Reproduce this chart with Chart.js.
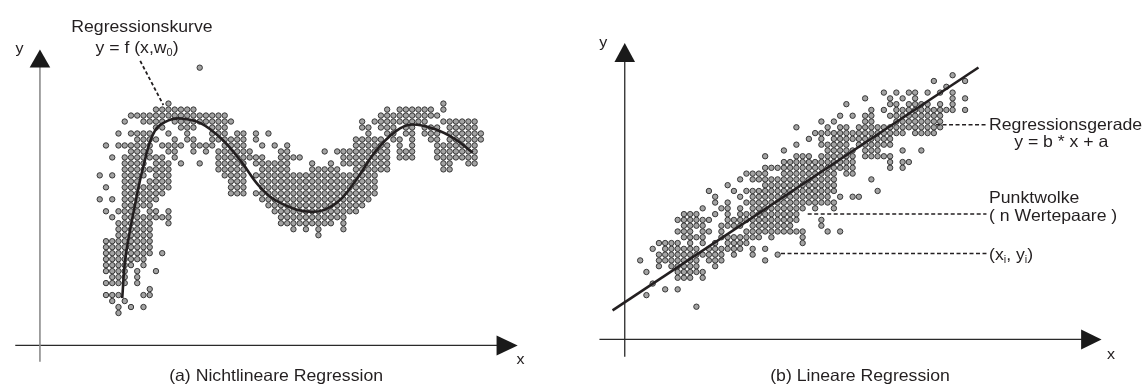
<!DOCTYPE html>
<html>
<head>
<meta charset="utf-8">
<script src="https://cdn.jsdelivr.net/npm/chart.js@4.4.1/dist/chart.umd.min.js"></script>
<style>
  html, body { margin: 0; padding: 0; background: #ffffff; }
  #wrap { position: relative; width: 1144px; height: 389px; overflow: hidden; }
  canvas { position: absolute; top: 0; }
</style>
</head>
<body>
<div id="wrap">
  <canvas id="nonlinear" width="572" height="389" style="left:0px"></canvas>
  <canvas id="linear" width="572" height="389" style="left:572px"></canvas>
</div>
<script>
// Point clouds on a lattice: "row: columns", columns given singly or as a-b ranges.
const nonlinearCloud = [
  "41:16",
  "35:11,55",
  "34:9-15,46,48-53,55",
  "33:5-20,45-54",
  "32:4,7-10,12-21,42,44-52,55-60",
  "31:9-10,13-15,18-20,42-43,45-47,49-50,52-54,56-60",
  "30:3,5-8,11,14,18-20,22-23,25,27,43,46-47,49-50,52-54,56-61",
  "29:6-9,12,14-15,18-23,25,41-45,47-48,50,53-54,56-61",
  "28:1,3-8,10-13,15-18,20-23,26,28,30,41-46,48,50,54-60",
  "27:5-8,11-12,15,17,19-24,29-30,36,38-46,48-50,54-60",
  "26:2,4-10,12,19-26,29-32,39-46,48-50,54-60",
  "25:4-7,9-11,13,16,19-23,25-30,34,37,39-46,55-56,59-60",
  "24:4-11,19-23,26-30,34-38,41-46,55-56",
  "23:0,2,4-7,9-11,20-23,25-44",
  "22:4-6,8-11,21-23,26-44",
  "21:1,4-11,21-23,26-44",
  "20:4-10,21-23,25-44",
  "19:0,2,4-9,26-43",
  "18:4-8,27-42",
  "17:1,3-6,8-9,11,28-41",
  "16:2,4-11,29-39",
  "15:3-8,11,29-37,39",
  "14:3-8,31,33,35,39",
  "13:3-8,35",
  "12:1-8",
  "11:1-8",
  "10:1-8,10",
  "9:1-7",
  "8:1-5,7",
  "7:1-4,6,9",
  "6:2-4,6",
  "5:1-4,6",
  "4:8",
  "3:1-3,7-8",
  "2:2,4",
  "1:3,5,7",
  "0:3"
];

const linearCloud = [
  "40:50",
  "39:47,52",
  "38:49",
  "37:39,41,43,44,46,48,50",
  "36:36,40,42,44,50,52",
  "35:33,40-41,43-46,48,50",
  "34:37,39,41-50,52",
  "33:32,34,36-37,40-48",
  "32:29,31,36-37,41-48",
  "31:25,30,32-33,35-48",
  "30:28-42,44-47",
  "29:27,29,31-40",
  "28:25,29-33,35-40",
  "27:23,30-34,36-38,42,45",
  "26:20,25-27,29-34,36-40",
  "25:23-34,40,42-43",
  "24:20-34,40,42",
  "23:17-20,23-31,33-34",
  "22:16,18-31,37",
  "21:14,20-31",
  "20:11,15,17-31,38",
  "19:12,16,18-30,32,34-35",
  "18:12,14,17-31",
  "17:10,13-14,16,18-26,28,31",
  "16:7-9,12,14,16-25",
  "15:6-11,14-25,29",
  "14:7-10,13-16,18-24,29",
  "13:6-8,10-11,13,17-26,30,32",
  "12:7-10,13-19,21,26",
  "11:3-6,8,10,12,14-17,26",
  "10:2,4-9,11-16,18,20",
  "9:3-13,15,18,22",
  "8:0,3-9,11-13,20",
  "7:3,5-9,12",
  "6:1,6-10",
  "5:6-8,10",
  "4:2",
  "3:4,6",
  "2:1",
  "0:9"
];

// Fitted curve y = f(x, w0), sampled along its path (lattice units)
const curveX = [3.6, 4.1, 5.5, 7.1, 8.8, 11.0, 13.1, 16.2, 19.4, 22.5, 25.7, 28.9, 34.0, 37.9, 41.0, 44.2, 47.4, 49.9, 53.7, 56.8, 59.7];
const curveY = [2.5, 9.1, 17.3, 25.0, 30.4, 32.2, 32.5, 31.7, 29.2, 25.5, 21.0, 18.4, 16.9, 18.4, 22.2, 27.1, 30.4, 31.5, 30.7, 29.1, 26.8];

// Straight fit y = b * x + a, end points (lattice units)
const lineX = [-4.42, 54.14];
const lineY = [-0.64, 41.34];

const captions = ["(a) Nichtlineare Regression", "(b) Lineare Regression"];

function expandRows(rows) {
  const pts = [];
  rows.forEach(function (s) {
    const parts = s.split(":");
    const r = Number(parts[0]);
    parts[1].split(",").forEach(function (chunk) {
      const ab = chunk.split("-").map(Number);
      const end = ab.length > 1 ? ab[1] : ab[0];
      for (let c = ab[0]; c <= end; c++) pts.push({ x: c, y: r });
    });
  });
  return pts;
}

function seg(xs, ys) { return xs.map(function (x, i) { return { x: x, y: ys[i] }; }); }

const INK = "#231f20";
const FONT = '"Liberation Sans", Arial, Helvetica, sans-serif';
const STRETCH = 1.07;

// Text with single-character subscripts written as _c
function drawRich(ctx, text, px, py, align, size) {
  const segs = [];
  for (let i = 0; i < text.length; i++) {
    if (text[i] === "_" && i + 1 < text.length) { segs.push({ t: text[i + 1], sub: true }); i++; }
    else {
      if (segs.length && !segs[segs.length - 1].sub) segs[segs.length - 1].t += text[i];
      else segs.push({ t: text[i], sub: false });
    }
  }
  let w = 0;
  segs.forEach(function (s) {
    ctx.font = (s.sub ? size * 0.62 : size) + "px " + FONT;
    w += ctx.measureText(s.t).width;
  });
  const x0 = align === "center" ? px - (w * STRETCH) / 2 : px;
  ctx.save();
  ctx.translate(x0, py);
  ctx.scale(STRETCH, 1);
  ctx.fillStyle = INK;
  ctx.textBaseline = "alphabetic";
  ctx.textAlign = "left";
  let cx = 0;
  segs.forEach(function (s) {
    const fs = s.sub ? size * 0.62 : size;
    ctx.font = fs + "px " + FONT;
    ctx.fillText(s.t, cx, s.sub ? size * 0.2 : 0);
    cx += ctx.measureText(s.t).width;
  });
  ctx.restore();
}

// Arrow heads and labels, placed through the chart's own scales
const decorPlugin = {
  id: "decor",
  afterDatasetsDraw: function (chart, args, opts) {
    const ctx = chart.ctx;
    const sx = chart.scales.x, sy = chart.scales.y;
    (opts.arrows || []).forEach(function (a) {
      const tx = sx.getPixelForValue(a.tip[0]), ty = sy.getPixelForValue(a.tip[1]);
      const bx = sx.getPixelForValue(a.base[0]), by = sy.getPixelForValue(a.base[1]);
      const dx = tx - bx, dy = ty - by, len = Math.hypot(dx, dy);
      const nx = -dy / len, ny = dx / len, hw = a.half;
      ctx.save();
      ctx.fillStyle = "#1a1a1a";
      ctx.beginPath();
      ctx.moveTo(tx, ty);
      ctx.lineTo(bx + nx * hw, by + ny * hw);
      ctx.lineTo(bx - nx * hw, by - ny * hw);
      ctx.closePath();
      ctx.fill();
      ctx.restore();
    });
    (opts.labels || []).forEach(function (l) {
      drawRich(ctx, l.text, sx.getPixelForValue(l.x), sy.getPixelForValue(l.y), l.align, l.size || 16.5);
    });
  }
};

function cloudDataset(rows) {
  return {
    data: expandRows(rows),
    pointRadius: 2.7,
    pointHoverRadius: 2.7,
    pointBorderWidth: 1,
    pointBackgroundColor: "#a3a3a3",
    pointBorderColor: "#363636",
    showLine: false,
    order: 1
  };
}

function lineDataset(points, color, width, dash, order, tension) {
  return {
    data: points,
    showLine: true,
    borderColor: color,
    borderWidth: width,
    borderDash: dash || [],
    pointRadius: 0,
    pointHoverRadius: 0,
    tension: tension || 0,
    fill: false,
    order: order
  };
}

function baseOptions(xr, yr, decor) {
  return {
    responsive: false,
    maintainAspectRatio: false,
    animation: false,
    events: [],
    layout: { padding: 0 },
    plugins: { legend: { display: false }, tooltip: { enabled: false }, decor: decor },
    scales: {
      x: { type: "linear", display: false, min: xr[0], max: xr[1] },
      y: { type: "linear", display: false, min: yr[0], max: yr[1] }
    }
  };
}

// (a) non-linear regression
new Chart(document.getElementById("nonlinear"), {
  type: "scatter",
  data: {
    datasets: [
      lineDataset(seg(curveX, curveY), INK, 2.6, null, 0, 0.4),
      lineDataset(seg([6.48, 10.18], [42.13, 34.76]), INK, 1.8, [3.5, 2.5], 0),
      cloudDataset(nonlinearCloud),
      lineDataset(seg([-9.57, -9.57], [-8.15, 41.5]), "#8c8c8c", 1.6, null, 2),
      lineDataset(seg([-13.52, 64.0], [-5.41, -5.41]), "#2a2a2a", 1.3, null, 2)
    ]
  },
  options: baseOptions([-15.37, 74.99], [-12.08, 51.69], {
    arrows: [
      { tip: [-9.57, 44.03], base: [-9.57, 41.03], half: 10.3 },
      { tip: [66.89, -5.41], base: [63.51, -5.41], half: 10 }
    ],
    labels: [
      { text: "Regressionskurve", x: 6.75, y: 47.02, align: "center" },
      { text: "y = f (x,w_0)", x: 5.96, y: 43.49, align: "center" },
      { text: "y", x: -12.84, y: 43.49, align: "center", size: 15 },
      { text: "x", x: 67.36, y: -8.48, align: "center", size: 15 },
      { text: captions[0], x: 28.23, y: -11.34, align: "center" }
    ]
  }),
  plugins: [decorPlugin]
});

// (b) linear regression
new Chart(document.getElementById("linear"), {
  type: "scatter",
  data: {
    datasets: [
      lineDataset(seg(lineX, lineY), INK, 2.6, null, 0),
      lineDataset(seg([47.35, 55.42], [31.46, 31.46]), INK, 1.5, [4, 2.5], 0),
      lineDataset(seg([26.81, 55.42], [16.0, 16.0]), INK, 1.5, [4, 2.5], 0),
      lineDataset(seg([22.54, 55.42], [9.19, 9.19]), INK, 1.5, [4, 2.5], 0),
      cloudDataset(linearCloud),
      lineDataset(seg([-2.47, -2.47], [-8.66, 42.8]), "#2a2a2a", 1.3, null, 2),
      lineDataset(seg([-6.52, 71.0], [-5.66, -5.66]), "#2a2a2a", 1.3, null, 2)
    ]
  },
  options: baseOptions([-10.32, 80.04], [-13.58, 52.36], {
    arrows: [
      { tip: [-2.47, 45.58], base: [-2.47, 42.3], half: 10.3 },
      { tip: [73.84, -5.66], base: [70.57, -5.66], half: 10 }
    ],
    labels: [
      { text: "y", x: -5.89, y: 44.9, align: "center", size: 15 },
      { text: "x", x: 75.36, y: -9.0, align: "center", size: 15 },
      { text: "Regressionsgerade", x: 55.83, y: 30.47, align: "left" },
      { text: "y = b * x + a", x: 67.39, y: 27.61, align: "center" },
      { text: "Punktwolke", x: 55.83, y: 17.95, align: "left" },
      { text: "( n Wertepaare )", x: 55.83, y: 14.81, align: "left" },
      { text: "(x_i, y_i)", x: 55.83, y: 8.12, align: "left" },
      { text: captions[1], x: 35.18, y: -12.81, align: "center" }
    ]
  }),
  plugins: [decorPlugin]
});
</script>
</body>
</html>
